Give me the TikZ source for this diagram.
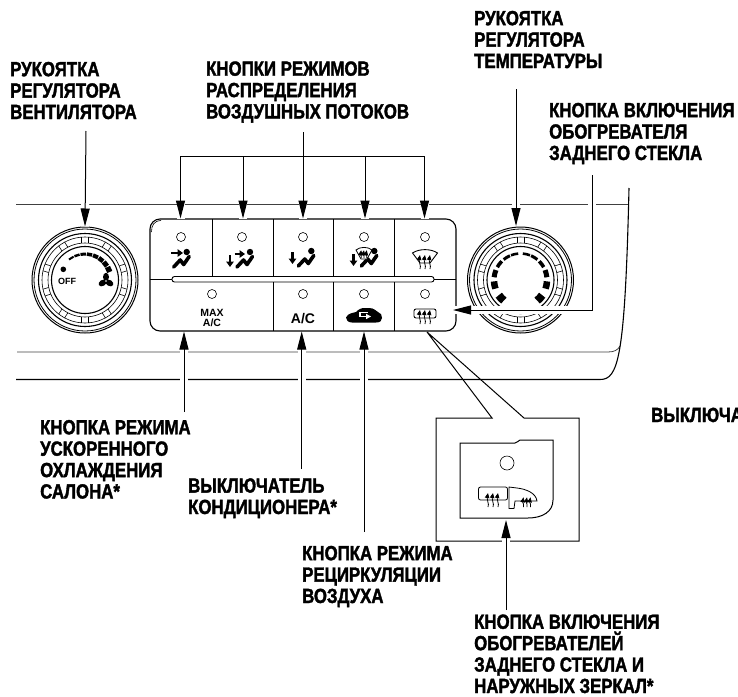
\documentclass[tikz,border=0pt]{standalone}
\usepackage{fontspec}
\setmainfont{Liberation Sans}
\newfontfamily\capfont[FakeStretch=0.82,FakeBold=1.7]{Liberation Sans}
\usetikzlibrary{arrows.meta, positioning}

\tikzset{
    caplabel/.style={anchor=base west, inner sep=0pt, align=left, font=\capfont\bfseries\fontsize{20.5}{21.4}\selectfont},
    leader/.style={line width=1pt, preaction={draw=white, line width=8pt, -}, -{Triangle[length=18pt, width=9pt]}},
    plain/.style={line width=1pt},
    panelline/.style={line width=0.8pt, black!75},
    knobrim/.style={circle, draw, line width=1pt, minimum size=106pt, inner sep=0pt},
    lamp/.style={circle, draw, line width=0.6pt, minimum size=9pt, inner sep=0pt},
    icondown/.style={line width=2.2pt, -{Triangle[length=5.5pt, width=7.5pt]}},
    heatarrow/.style={line width=0.8pt, -{Triangle[length=5pt, width=4.4pt]}},
    pics/seatman/.style={code={
        \fill (0,0) circle (3.2pt);
        \draw[line width=3.6pt, line join=round, line cap=round] (-13,15) -- (-6.5,8) -- (-3,12.5) -- (2.5,4.5);
    }},
    pics/heatrise/.style={code={
        \foreach \xx in {-5,0,5}
            \draw[heatarrow] (\xx,8) .. controls (\xx+1.5,4) and (\xx-1.5,2) .. (\xx,-6);
    }},
    pics/knobrings/.style={code={
        \draw[line width=0.8pt] (0,0) circle (51pt);
        \draw[line width=1.1pt] (0,0) circle (46.5pt);
        \draw[line width=0.6pt] (0,0) circle (43pt);
        \draw[line width=0.6pt] (0,0) circle (37pt);
        \draw[line width=1.1pt] (0,0) circle (33.5pt);
        \foreach \ang in {90,57,17,-17,-57,-90,-123,-163,163,123} {
            \draw[line width=0.6pt, rotate=\ang] (37,-3.5) -- (43,-3.5) (37,3.5) -- (43,3.5);
        }
    }},
}

\begin{document}
\begin{tikzpicture}[x=1pt, y=-1pt]
    \useasboundingbox (0,0) rectangle (738,696);

    \node[caplabel] (fanlabel) at (10,119) {РУКОЯТКА\\РЕГУЛЯТОРА\\ВЕНТИЛЯТОРА};
    \node[caplabel] (modelabel) at (206,118.5) {КНОПКИ РЕЖИМОВ\\РАСПРЕДЕЛЕНИЯ\\ВОЗДУШНЫХ ПОТОКОВ};
    \node[caplabel] (templabel) at (474,68) {РУКОЯТКА\\РЕГУЛЯТОРА\\ТЕМПЕРАТУРЫ};
    \node[caplabel] (rearlabel) at (549,160) {КНОПКА ВКЛЮЧЕНИЯ\\ОБОГРЕВАТЕЛЯ\\ЗАДНЕГО СТЕКЛА};
    \node[caplabel] (maxlabel) at (40,498.5) {КНОПКА РЕЖИМА\\УСКОРЕННОГО\\ОХЛАЖДЕНИЯ\\САЛОНА*};
    \node[caplabel] (aclabel) at (188,514) {ВЫКЛЮЧАТЕЛЬ\\КОНДИЦИОНЕРА*};
    \node[caplabel] (recirclabel) at (302,603) {КНОПКА РЕЖИМА\\РЕЦИРКУЛЯЦИИ\\ВОЗДУХА};
    \node[caplabel] (mirrorlabel) at (474,693) {КНОПКА ВКЛЮЧЕНИЯ\\ОБОГРЕВАТЕЛЕЙ\\ЗАДНЕГО СТЕКЛА И\\НАРУЖНЫХ ЗЕРКАЛ*};
    \node[caplabel] (cutlabel) at (651,422) {ВЫКЛЮЧА};

    \draw[panelline] (16,204) -- (629,204);
    \draw[panelline] (17,352) -- (608,352) .. controls (614,352) and (618,350) .. (620,346);
    \draw[line width=1.1pt] (16,379.5) -- (600,379.5) .. controls (618,379.5) and (625,360) .. (629,188);

    \node[knobrim] (fanknob) at (85,280) {};
    \pic at (fanknob) {knobrings};
    \node[knobrim] (tempknob) at (520.5,280) {};
    \pic at (tempknob) {knobrings};

    \foreach \ang [evaluate=\ang as \wid using 2+(128-\ang)/28] in {128,114,100,86,72,58,44,30}
        \draw[line width=\wid pt] (fanknob) ++(\ang:26pt) arc[start angle=\ang, end angle=\ang-12, radius=26pt];
    \fill (63.3,269.3) circle (2.8pt);
    \node[font=\bfseries\fontsize{9}{9}\selectfont, inner sep=0pt] (offtext) at (67,281) {OFF};
    \foreach \ang in {90,210,330}
        \fill (106,281) ++(\ang:4pt) ellipse[x radius=4.2pt, y radius=3pt, rotate=\ang];
    \fill[white] (106,281) circle (0.9pt);

    \foreach \ang/\wid in {13/2.6, 31.5/3, 53/3.6, 76/5, 101/6.5, 133/8} {
        \draw[line width=\wid pt] (tempknob) ++(90-\ang-8:26.5pt) arc[start angle=90-\ang-8, end angle=90-\ang+8, radius=26.5pt];
        \draw[line width=\wid pt] (tempknob) ++(90+\ang-8:26.5pt) arc[start angle=90+\ang-8, end angle=90+\ang+8, radius=26.5pt];
    }

    \draw[line width=1.1pt, rounded corners=10pt] (150,219) rectangle (456,331);
    \draw[line width=0.6pt] (151.5,232) .. controls (151.5,225) and (154,221) .. (161,220.5);
    \draw[line width=0.6pt] (150,279) -- (172,279);
    \draw[line width=0.6pt] (456,279) -- (434,279);
    \draw[line width=0.9pt, rounded corners=2.5pt] (172,276.5) rectangle (434,282);
    \foreach \xx in {212,273,333,394}
        \draw[line width=0.7pt] (\xx,219) -- (\xx,276.5);
    \foreach \xx in {273,333,394}
        \draw[line width=0.7pt] (\xx,282) -- (\xx,331);

    \foreach \xx in {181,242,303,364,425}
        \node[lamp] at (\xx,237) {};
    \foreach \xx in {212,303,364,425}
        \node[lamp] at (\xx,294) {};

    \pic at (186.7,252) {seatman};
    \draw[icondown] (171,253) -- (183,253);
    \pic at (250,252) {seatman};
    \draw[icondown] (234.5,254) -- (245,254);
    \draw[icondown] (230,255) -- (230,267);
    \pic at (311.3,251) {seatman};
    \draw[icondown] (292.5,252) -- (292.5,264);
    \pic at (374.3,251) {seatman};
    \draw[icondown] (353.5,254) -- (353.5,266);
    \fill[white] (357,248) -- (371,248) -- (367,259) -- (361,259) -- cycle;
    \draw[line width=0.8pt] (356,250) .. controls (360,246.5) and (368,246.5) .. (372,250) -- (367,259) -- (361,259) -- cycle;
    \pic[scale=0.55] at (364,253.5) {heatrise};

    \draw[line width=0.9pt] (412.5,253) .. controls (419,248.5) and (431,248.5) .. (437.5,253) -- (430,263) -- (420,263) -- cycle;
    \pic at (425,261) {heatrise};

    \node[font=\bfseries\fontsize{10.5}{10}\selectfont, inner sep=0pt, anchor=base] (maxtext) at (212,316) {MAX};
    \node[font=\bfseries\fontsize{10.5}{10}\selectfont, inner sep=0pt, anchor=base] (maxtextb) at (212,326) {A/C};
    \node[font=\bfseries\fontsize{14}{14}\selectfont, inner sep=0pt, anchor=base] (actext) at (303,323) {A/C};

    \fill (346,317.5) .. controls (348,313) and (353,313) .. (356,312) .. controls (359,309) and (361,308) .. (365,308)
        -- (369,308) .. controls (374,308) and (376,311) .. (378,312) .. controls (381,313) and (382,315) .. (382,318)
        .. controls (382,321) and (380,322.5) .. (376,322.5) -- (352,322.5) .. controls (348,322.5) and (346,320) .. (346,317.5) -- cycle;
    \draw[white, line width=1.5pt] (368,312.5) -- (360,312.5) -- (360,316.5) -- (366,316.5);
    \fill[white] (366,313.8) -- (371,316.5) -- (366,319.2) -- cycle;

    \draw[line width=0.9pt, rounded corners=2pt] (414,309) rectangle (436,318);
    \pic at (425,316) {heatrise};

    \coordinate (wedgetop) at (427,332);
    \coordinate (boxleft) at (492,418);
    \coordinate (boxright) at (524,418);
    \draw[plain] (wedgetop) -- (boxleft) -- (436,418) -- (436,541) -- (579,541) -- (579,418) -- (boxright) -- (wedgetop);
    \draw[plain] (460,443) -- (515,443) .. controls (518,443) and (518,440) .. (520,440) -- (553,440) -- (553,500)
        .. controls (553,512) and (542,518) .. (528,518) -- (460,518) -- cycle;
    \node[lamp, minimum size=14pt] at (507,463) {};
    \draw[line width=0.8pt, rounded corners=2pt] (478.5,487) rectangle (507.5,500);
    \pic at (493,499) {heatrise};
    \draw[line width=0.8pt] (509,487) -- (517,488) .. controls (526,489) and (536,493) .. (537,501) -- (515,501) -- (514,508.5) -- (509,508.5) -- cycle;
    \pic[scale=0.7] at (527,501.5) {heatrise};

    \coordinate (fantail) at (86,131);
    \coordinate (temptail) at (516,89);
    \coordinate (temptip) at (516,226);
    \coordinate (reartail) at (592,175);
    \coordinate (rearbend) at (592,310);
    \coordinate (reartip) at (453,310);
    \coordinate (maxtail) at (184,412);
    \coordinate (maxtip) at (184,331.5);
    \coordinate (actail) at (301.7,469);
    \coordinate (actip) at (301.7,331.5);
    \coordinate (recirctail) at (364,532);
    \coordinate (recirctip) at (364,331.5);
    \coordinate (mirrortail) at (506,610);
    \coordinate (mirrortip) at (506,520);
    \coordinate (modetail) at (303,132);
    \foreach \btn/\xx in {1/180.5,2/243,3/303,4/365,5/424.5} {
        \coordinate (modebus\btn) at (\xx,156);
        \coordinate (modetip\btn) at (\xx,218.5);
    }

    \draw[leader] (fantail) -- (fanknob.north);
    \draw[leader] (temptail) -- (temptip);
    \draw[leader] (reartail) -- (rearbend) -- (reartip);
    \draw[leader] (maxtail) -- (maxtip);
    \draw[leader] (actail) -- (actip);
    \draw[leader] (recirctail) -- (recirctip);
    \draw[leader] (mirrortail) -- (mirrortip);
    \draw[plain] (modetail) -- (modebus3);
    \foreach \btn in {1,...,5}
        \draw[leader] (modebus\btn) -- (modetip\btn);
    \draw[plain] (modebus1) -- (modebus5);
\end{tikzpicture}
\end{document}
